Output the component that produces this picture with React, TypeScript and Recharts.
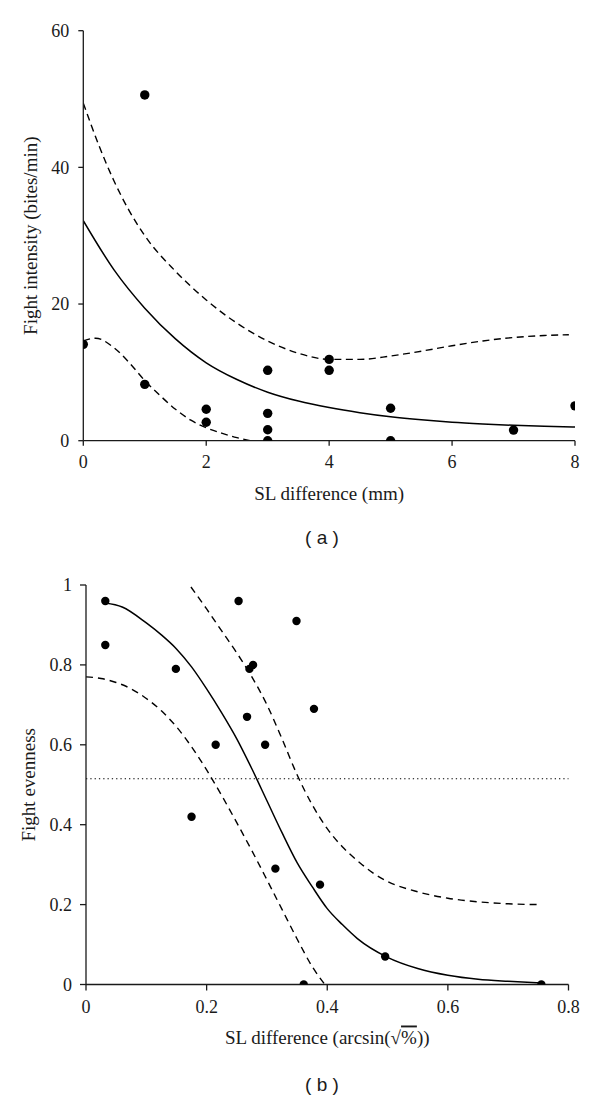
import { ComposedChart, Line, Scatter, XAxis, YAxis, ReferenceLine, Label } from "recharts";

// (a) fight intensity vs SL difference (mm)
const intensityX = [0, 1, 1, 2, 2, 3, 3, 3, 3, 4, 4, 5, 5, 7, 8];
const intensityY = [14.1, 50.6, 8.25, 4.6, 2.7, 10.3, 4.0, 1.6, 0, 11.9, 10.3, 4.75, 0, 1.55, 5.1];

const fitAX = [0, 0.5, 1, 1.5, 2, 2.5, 3, 3.5, 4, 4.5, 5, 5.5, 6, 6.5, 7, 7.5, 8];
const fitAY = [32.2, 25.0, 19.4, 14.9, 11.4, 8.95, 7.1, 5.8, 4.85, 4.1, 3.5, 3.05, 2.7, 2.45, 2.25, 2.1, 2.0];

const upperAX = [0, 0.25, 0.5, 0.75, 1, 1.5, 2, 2.5, 3, 3.5, 4, 4.5, 5, 5.5, 6, 6.5, 7, 7.5, 7.9];
const upperAY = [49.4, 43.3, 38.0, 33.6, 30.0, 24.8, 20.6, 17.2, 14.6, 12.8, 11.9, 11.9, 12.4, 13.1, 13.9, 14.6, 15.1, 15.4, 15.5];

const lowerAX = [0, 0.2, 0.5, 0.75, 1, 1.25, 1.5, 1.75, 2, 2.25, 2.5, 2.72];
const lowerAY = [14.6, 15.0, 13.6, 11.4, 8.8, 6.6, 4.6, 3.0, 1.9, 1.1, 0.45, 0];

const ticksAX = [0, 2, 4, 6, 8];
const ticksAY = [0, 20, 40, 60];

// (b) fight evenness vs SL difference (arcsin sqrt %)
const evenX = [0.032, 0.032, 0.149, 0.175, 0.215, 0.253, 0.267, 0.271, 0.277, 0.297, 0.314, 0.349, 0.378, 0.388, 0.496, 0.361, 0.755];
const evenY = [0.96, 0.85, 0.79, 0.42, 0.6, 0.96, 0.67, 0.79, 0.8, 0.6, 0.29, 0.91, 0.69, 0.25, 0.07, 0, 0];

const fitBX = [0.032, 0.06, 0.1, 0.125, 0.15, 0.175, 0.2, 0.225, 0.25, 0.275, 0.3, 0.325, 0.35, 0.375, 0.4, 0.425, 0.45, 0.5, 0.55, 0.6, 0.65, 0.7, 0.755];
const fitBY = [0.955, 0.945, 0.905, 0.875, 0.84, 0.795, 0.74, 0.68, 0.615, 0.54, 0.46, 0.38, 0.305, 0.245, 0.19, 0.15, 0.115, 0.068, 0.04, 0.023, 0.013, 0.008, 0.004];

const upperBX = [0.174, 0.2, 0.225, 0.25, 0.275, 0.3, 0.325, 0.35, 0.375, 0.4, 0.425, 0.45, 0.475, 0.5, 0.55, 0.6, 0.65, 0.7, 0.752];
const upperBY = [0.995, 0.94, 0.885, 0.83, 0.77, 0.7, 0.615, 0.525, 0.45, 0.39, 0.345, 0.31, 0.28, 0.258, 0.232, 0.216, 0.207, 0.202, 0.2];

const lowerBX = [0, 0.025, 0.05, 0.075, 0.1, 0.125, 0.15, 0.175, 0.2, 0.225, 0.25, 0.275, 0.3, 0.325, 0.35, 0.375, 0.396];
const lowerBY = [0.77, 0.766, 0.756, 0.74, 0.716, 0.685, 0.645, 0.595, 0.537, 0.473, 0.405, 0.335, 0.262, 0.188, 0.114, 0.045, 0];

const ticksBX = [0, 0.2, 0.4, 0.6, 0.8];
const ticksBY = [0, 0.2, 0.4, 0.6, 0.8, 1];
const thresholdB = 0.515;

const zip = (xs: number[], ys: number[]) => xs.map((x, i) => ({ x, y: ys[i] }));

const SERIF = "Liberation Serif, DejaVu Serif, serif";
const INK = "#1a1a1a";
const tickStyle = { fontSize: 18, fill: INK, fontFamily: SERIF, style: { fontFamily: SERIF } };

const dot = (r: number) => (p: any) => <circle cx={p.cx} cy={p.cy} r={r} fill="#000" />;

const xTitle = (content: any, dy: number) => (props: any) => {
  const vb = props.viewBox;
  return (
    <text x={vb.x + vb.width / 2} y={vb.y + dy} textAnchor="middle" fill={INK} style={{ fontFamily: SERIF, fontSize: 19 }}>
      {content}
    </text>
  );
};

const caption = (txt: string, dy: number) => (props: any) => {
  const vb = props.viewBox;
  return (
    <text x={322} y={vb.y + dy} textAnchor="middle" fill={INK} style={{ fontFamily: "Liberation Sans, Arial, sans-serif", fontSize: 19 }}>
      {txt}
    </text>
  );
};

const yTitle = (txt: string, x: number) => (props: any) => {
  const vb = props.viewBox;
  const cy = vb.y + vb.height / 2;
  return (
    <text x={x} y={cy} transform={`rotate(-90 ${x} ${cy})`} textAnchor="middle" fill={INK} style={{ fontFamily: SERIF, fontSize: 19 }}>
      {txt}
    </text>
  );
};

export default function App() {
  const ptsA = zip(intensityX, intensityY);
  const ptsB = zip(evenX, evenY);
  return (
    <div style={{ position: "absolute", left: 0, top: 0, width: 600, height: 1098, background: "#fff", fontFamily: SERIF }}>
      <div style={{ position: "absolute", left: 0, top: 0 }}>
        <ComposedChart width={600} height={550} margin={{ top: 30.7, right: 25, bottom: 79.3, left: 0 }}>
          <XAxis
            type="number"
            dataKey="x"
            domain={[0, 8]}
            ticks={ticksAX}
            tickSize={5}
            tickMargin={10}
            height={30}
            tick={tickStyle}
            stroke={INK}
            strokeWidth={1.3}
            allowDataOverflow
          >
            <Label content={xTitle("SL difference (mm)", 59)} />
            <Label content={caption("( a )", 103)} />
          </XAxis>
          <YAxis
            type="number"
            dataKey="y"
            domain={[0, 60]}
            ticks={ticksAY}
            tickSize={5}
            tickMargin={9}
            width={83.3}
            tick={tickStyle}
            stroke={INK}
            strokeWidth={1.3}
            allowDataOverflow
          >
            <Label content={yTitle("Fight intensity (bites/min)", 37)} />
          </YAxis>
          <Line data={zip(upperAX, upperAY)} dataKey="y" type="monotone" dot={false} stroke="#000" strokeWidth={1.4} strokeDasharray="7 4.5" isAnimationActive={false} />
          <Line data={zip(lowerAX, lowerAY)} dataKey="y" type="monotone" dot={false} stroke="#000" strokeWidth={1.4} strokeDasharray="7 4.5" isAnimationActive={false} />
          <Line data={zip(fitAX, fitAY)} dataKey="y" type="monotone" dot={false} stroke="#000" strokeWidth={1.5} isAnimationActive={false} />
          <Scatter data={ptsA} dataKey="y" shape={dot(4.7)} isAnimationActive={false} />
        </ComposedChart>
      </div>
      <div style={{ position: "absolute", left: 0, top: 550 }}>
        <ComposedChart width={600} height={548} margin={{ top: 35, right: 31.5, bottom: 83.5, left: 0 }}>
          <XAxis
            type="number"
            dataKey="x"
            domain={[0, 0.8]}
            ticks={ticksBX}
            tickSize={6}
            tickMargin={10}
            height={30}
            tick={tickStyle}
            stroke={INK}
            strokeWidth={1.3}
            allowDataOverflow
          >
            <Label
              content={xTitle(
                <>
                  SL difference (arcsin(√<tspan style={{ textDecoration: "overline" }}>%</tspan>))
                </>,
                59
              )}
            />
            <Label content={caption("( b )", 106)} />
          </XAxis>
          <YAxis
            type="number"
            dataKey="y"
            domain={[0, 1]}
            ticks={ticksBY}
            tickSize={6}
            tickMargin={8}
            width={86}
            tick={tickStyle}
            stroke={INK}
            strokeWidth={1.3}
            allowDataOverflow
          >
            <Label content={yTitle("Fight evenness", 35)} />
          </YAxis>
          <ReferenceLine y={thresholdB} stroke="#000" strokeWidth={1.2} strokeDasharray="1.3 3" />
          <Line data={zip(upperBX, upperBY)} dataKey="y" type="monotone" dot={false} stroke="#000" strokeWidth={1.4} strokeDasharray="7 5" isAnimationActive={false} />
          <Line data={zip(lowerBX, lowerBY)} dataKey="y" type="monotone" dot={false} stroke="#000" strokeWidth={1.4} strokeDasharray="7 5" isAnimationActive={false} />
          <Line data={zip(fitBX, fitBY)} dataKey="y" type="monotone" dot={false} stroke="#000" strokeWidth={1.5} isAnimationActive={false} />
          <Scatter data={ptsB} dataKey="y" shape={dot(4.2)} isAnimationActive={false} />
        </ComposedChart>
      </div>
    </div>
  );
}
